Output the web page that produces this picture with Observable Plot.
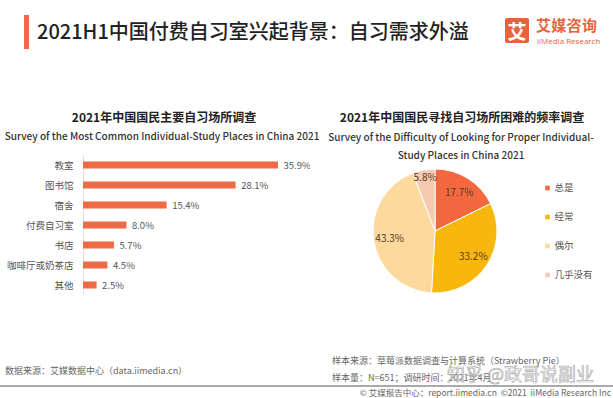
<!DOCTYPE html>
<html>
<head>
<meta charset="utf-8">
<script src="https://cdn.jsdelivr.net/npm/d3@7"></script>
<script src="https://cdn.jsdelivr.net/npm/@observablehq/plot@0.6"></script>
<style>
  html, body { margin: 0; padding: 0; background: #fff; }
  #root { position: relative; width: 613px; height: 398px; overflow: hidden; font-family: "Noto Sans CJK SC", "Noto Sans", sans-serif; }
  .abs { position: absolute; white-space: nowrap; }
  .ctr { transform: translateX(-50%); text-align: center; }
  .en { font-family: 'Noto Sans CJK SC', sans-serif; font-size: 10px; font-weight: 500; color: #333; }
</style>
</head>
<body>
<div id="root">
  <div class="abs" style="left:24px;top:15px;width:5px;height:34px;background:#ec6b47;"></div>
  <div class="abs" style="left:37px;top:16px;font-size:20px;line-height:30px;font-weight:500;color:#222;">2021H1中国付费自习室兴起背景：自习需求外溢</div>
  <div class="abs" style="left:505px;top:18px;width:24px;height:25px;background:#e8623e;border-radius:2px;color:#fff;font-size:19px;font-weight:bold;line-height:25px;text-align:center;">艾</div>
  <div class="abs" style="left:536px;top:16px;font-size:15px;line-height:17px;font-weight:bold;color:#e8623e;letter-spacing:0.3px;">艾媒咨询</div>
  <div class="abs" style="left:537px;top:36px;font-size:8px;line-height:9px;color:#e8623e;font-family:'Open Sans',sans-serif;">iiMedia Research</div>

  <div class="abs ctr" style="left:164px;top:108px;font-size:12px;line-height:17px;font-weight:bold;color:#222;">2021年中国国民主要自习场所调查</div>
  <div class="abs ctr en" style="left:162px;top:128px;line-height:15px;">Survey of the Most Common Individual-Study Places in China 2021</div>

  <div class="abs ctr" style="left:462px;top:108px;font-size:12px;line-height:17px;font-weight:bold;color:#222;">2021年中国国民寻找自习场所困难的频率调查</div>
  <div class="abs ctr en" style="left:461px;top:128px;line-height:18px;">Survey of the Difficulty of Looking for Proper Individual-<br>Study Places in China 2021</div>

  <div id="bars" class="abs" style="left:0;top:150px;"></div>
  <div id="pie" class="abs" style="left:320px;top:161px;"></div>

  <div class="abs" style="left:5px;top:364px;font-size:9px;line-height:14px;color:#666;">数据来源：艾媒数据中心（data.iimedia.cn）</div>
  <div class="abs" style="left:332px;top:354px;font-size:9px;line-height:14px;color:#666;">样本来源：草莓派数据调查与计算系统（Strawberry Pie）</div>
  <div class="abs" style="left:332px;top:371px;font-size:9px;line-height:14px;color:#666;">样本量：N=651；调研时间：2021年4月</div>
  <div class="abs" style="left:0;top:385px;width:613px;height:1.5px;background:#aaa;"></div>
  <div class="abs" style="right:2px;top:386px;font-size:8.5px;line-height:12px;color:#666;">© 艾媒报告中心：report.iimedia.cn &nbsp;©2021 &nbsp;iiMedia Research Inc</div>
  <div class="abs" style="left:447px;top:361px;font-size:18px;line-height:24px;color:rgba(255,255,255,0.55);-webkit-text-stroke:0.7px rgba(150,150,150,0.8);">知乎 @政哥说副业</div>
</div>
<script>
const places = ["教室", "图书馆", "宿舍", "付费自习室", "书店", "咖啡厅或奶茶店", "其他"];
const placeShares = [35.9, 28.1, 15.4, 8.0, 5.7, 4.5, 2.5];

const freqCats = ["总是", "经常", "偶尔", "几乎没有"];
const freqShares = [17.7, 33.2, 43.3, 5.8];
const freqColors = ["#f4683f", "#f8b70c", "#fcd99c", "#f6c9b2"];

const barData = places.map((p, i) => ({place: p, value: placeShares[i]}));
const pieData = freqCats.map((c, i) => ({cat: c, value: freqShares[i]}));

const bars = Plot.plot({
  width: 310, height: 150,
  marginLeft: 83, marginRight: 32, marginTop: 5, marginBottom: 5,
  style: {fontFamily: "'Noto Sans CJK SC', sans-serif", background: "transparent"},
  x: {domain: [0, 35.9], axis: null},
  y: {domain: places, padding: 0, axis: null},
  marks: [
    Plot.ruleX([0], {stroke: "#e3e3e3", strokeWidth: 1}),
    Plot.barX(barData, {x: "value", y: "place", fill: "#f26a45", insetTop: 6.5, insetBottom: 6.5}),
    Plot.text(barData, {x: "value", y: "place", text: d => d.value.toFixed(1) + "%", dx: 5, textAnchor: "start", fontSize: 9.5, fill: "#555"}),
    Plot.axisY({tickSize: 0, tickPadding: 10, fontSize: 9.5, fill: "#555", label: null})
  ]
});
document.getElementById("bars").appendChild(bars);

function pieRender(index, scales, values, dimensions) {
  const color = scales.color || d3.scaleOrdinal(freqCats, freqColors);
  const r = 62;
  const cx = 115, cy = dimensions.height / 2;
  const arcs = d3.pie().sort(null).value(d => d.value)(pieData);
  const arc = d3.arc().innerRadius(0).outerRadius(r);
  const g = d3.create("svg:g").attr("transform", `translate(${cx},${cy})`);
  g.selectAll("path").data(arcs).join("path")
    .attr("d", arc)
    .attr("fill", d => color(d.data.cat))
    .attr("stroke", "#fff")
    .attr("stroke-width", 1);
  g.selectAll("text").data(arcs).join("text")
    .attr("transform", d => {
      const rr = d.data.value < 10 ? r * 0.88 : r * 0.74;
      const c = d3.arc().innerRadius(rr).outerRadius(rr).centroid(d);
      return `translate(${c[0]},${c[1]})`;
    })
    .attr("text-anchor", "middle")
    .attr("dy", "0.35em")
    .attr("font-size", 10)
    .attr("fill", "#5a3a22")
    .text(d => d.data.value.toFixed(1) + "%");
  return g.node();
}

const pie = Plot.plot({
  width: 293, height: 140,
  marginLeft: 0, marginRight: 66, marginTop: 0, marginBottom: 0,
  style: {fontFamily: "'Noto Sans CJK SC', sans-serif", background: "transparent", overflow: "visible"},
  color: {domain: freqCats, range: freqColors},
  y: {type: "band", domain: freqCats, range: [12, 128], padding: 0, axis: null},
  marks: [
    pieRender,
    Plot.dot(freqCats, {y: d => d, fill: d => d, symbol: "square", r: 2.6, frameAnchor: "right"}),
    Plot.text(freqCats, {y: d => d, text: d => d, frameAnchor: "right", dx: 7, textAnchor: "start", fontSize: 9.5, fill: "#555"})
  ]
});
document.getElementById("pie").appendChild(pie);
</script>
</body>
</html>
